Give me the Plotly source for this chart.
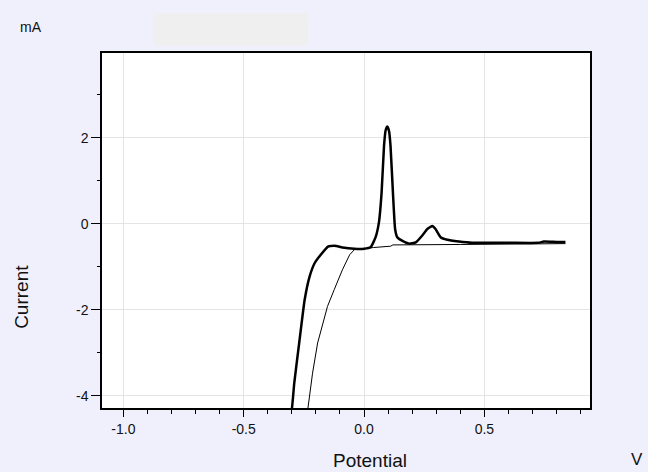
import plotly.graph_objects as go

# Forward (thick) scan
scan1_potential = [-0.330, -0.300, -0.290, -0.268, -0.247, -0.226, -0.205, -0.180, -0.150, -0.122,
                   -0.090, -0.040, 0.000, 0.028, 0.048, 0.062, 0.073, 0.083, 0.090, 0.097, 0.104, 0.110,
                   0.120, 0.129, 0.138, 0.158, 0.187, 0.215, 0.242, 0.263, 0.284, 0.297,
                   0.318, 0.346, 0.394, 0.450, 0.600, 0.726, 0.747, 0.800, 0.837]
scan1_current = [-5.00, -4.30, -3.70, -2.70, -1.77, -1.22, -0.91, -0.72, -0.53, -0.51,
                 -0.55, -0.58, -0.58, -0.54, -0.31, 0.04, 0.73, 1.81, 2.18, 2.26, 2.15, 1.81,
                 0.73, -0.12, -0.31, -0.39, -0.46, -0.43, -0.27, -0.12, -0.05, -0.12,
                 -0.31, -0.37, -0.41, -0.44, -0.44, -0.44, -0.41, -0.42, -0.42]

# Second (thin) scan
scan2_potential = [-0.250, -0.234, -0.214, -0.193, -0.152, -0.124, -0.090, -0.060, -0.040,
                   0.000, 0.040, 0.110, 0.120, 0.400, 0.837]
scan2_current = [-5.00, -4.30, -3.47, -2.77, -1.92, -1.53, -1.07, -0.72, -0.60,
                 -0.58, -0.55, -0.52, -0.49, -0.48, -0.46]

x_tickvals = [-1.0, -0.5, 0.0, 0.5]
x_ticktext = ["-1.0", "-0.5", "0.0", "0.5"]
y_tickvals = [2, 0, -2, -4]
y_ticktext = ["2", "0", "-2", "-4"]

bg = "#F0F0FC"
font = "Liberation Sans, Arial, sans-serif"

fig = go.Figure()
fig.add_trace(go.Scatter(x=scan2_potential, y=scan2_current, mode="lines",
                         line=dict(color="black", width=1), showlegend=False))
fig.add_trace(go.Scatter(x=scan1_potential, y=scan1_current, mode="lines",
                         line=dict(color="black", width=2.5, shape="spline", smoothing=0.4),
                         showlegend=False))

axis_common = dict(showline=True, linecolor="black", linewidth=1.5, mirror=True,
                   ticks="outside", tickcolor="black", showgrid=True,
                   gridcolor="#E4E4E4", gridwidth=1, zeroline=False)

fig.update_xaxes(range=[-1.089, 0.939], tickmode="array", tickvals=x_tickvals,
                 ticktext=x_ticktext, ticklen=7, tickwidth=1,
                 tickfont=dict(family=font, size=14, color="#111111"),
                 minor=dict(tickmode="linear", tick0=0, dtick=0.1, ticks="outside",
                            ticklen=4, tickcolor="black", showgrid=False),
                 **axis_common)
fig.update_yaxes(range=[-4.28, 3.97], tickmode="array", tickvals=y_tickvals,
                 ticktext=y_ticktext, ticklen=9, tickwidth=1,
                 tickfont=dict(family=font, size=14, color="#111111"),
                 minor=dict(tickmode="linear", tick0=0, dtick=1, ticks="outside",
                            ticklen=3, tickcolor="black", showgrid=False),
                 **axis_common)

# rounded grey box at top (paper coordinates)
x0, x1, y0, y1 = 0.1045, 0.422, 1.0206, 1.1136
rx, ry = 5 / 488, 5 / 355
path = (f"M {x0+rx},{y0} L {x1-rx},{y0} Q {x1},{y0} {x1},{y0+ry} "
        f"L {x1},{y1-ry} Q {x1},{y1} {x1-rx},{y1} L {x0+rx},{y1} "
        f"Q {x0},{y1} {x0},{y1-ry} L {x0},{y0+ry} Q {x0},{y0} {x0+rx},{y0} Z")

def label(text, x, y, size, **kw):
    return dict(text=text, x=x, y=y, xref="paper", yref="paper", showarrow=False,
                xanchor=kw.pop("xanchor", "center"), yanchor="middle",
                font=dict(size=size, family=font, color="#111111"), **kw)

fig.update_layout(
    width=648, height=472,
    margin=dict(l=102, r=58, t=53, b=64),
    paper_bgcolor=bg, plot_bgcolor="white",
    font=dict(family=font, color="#111111"),
    shapes=[dict(type="path", path=path, xref="paper", yref="paper",
                 fillcolor="#EFEFEF", line=dict(width=0), layer="below")],
    annotations=[
        label("Potential", 0.549, -0.1465, 19),
        label("V", 1.096, -0.144, 17),
        label("Current", -0.164, 0.313, 19, textangle=-90),
        label("mA", -0.172, 1.073, 14, xanchor="left"),
    ],
)

fig.write_html("out.html",
               config={"displayModeBar": False},
               post_script="document.body.style.margin='0';"
                           "document.body.style.background='" + bg + "';")
